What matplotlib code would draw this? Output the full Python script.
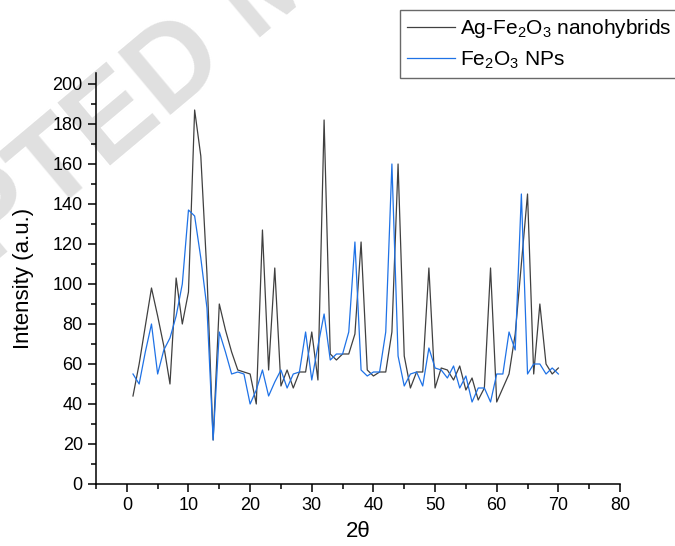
import numpy as np
import matplotlib
matplotlib.use('Agg')
import matplotlib.pyplot as plt
from matplotlib.ticker import MultipleLocator

plt.rcParams['font.family'] = ['Liberation Sans', 'DejaVu Sans']
plt.rcParams['mathtext.fontset'] = 'custom'
plt.rcParams['mathtext.rm'] = 'Liberation Sans'
plt.rcParams['mathtext.it'] = 'Liberation Sans:italic'
plt.rcParams['mathtext.bf'] = 'Liberation Sans:bold'

# 2theta positions
two_theta = list(range(1, 71))

# Ag-Fe2O3 nanohybrids
ag_fe2o3 = [44, 60, 79, 98, 84, 69, 50, 103, 80, 96,
            187, 164, 105, 22, 90, 77, 66, 57, 56, 55,
            40, 127, 57, 108, 49, 57, 48, 56, 56, 76,
            52, 182, 65, 62, 65, 65, 75, 121, 57, 54,
            56, 56, 76, 160, 64, 48, 56, 56, 108, 48,
            58, 57, 52, 59, 47, 53, 42, 48, 108, 41,
            48, 55, 75, 110, 145, 55, 90, 60, 55, 58]

# Fe2O3 NPs
fe2o3 = [55, 50, 66, 80, 55, 67, 73, 84, 100, 137,
         134, 113, 88, 22, 76, 66, 55, 56, 55, 40,
         47, 57, 44, 51, 57, 48, 55, 56, 76, 52,
         69, 85, 62, 65, 65, 76, 121, 57, 54, 56,
         56, 76, 160, 64, 49, 55, 56, 49, 68, 58,
         57, 53, 59, 48, 54, 41, 48, 48, 41, 55,
         55, 76, 67, 145, 55, 60, 60, 55, 58, 55]

labels = ['Ag-Fe$_2$O$_3$ nanohybrids', 'Fe$_2$O$_3$ NPs']

fig = plt.figure(figsize=(6.75, 5.46), dpi=100)

# watermark in the background
wm = dict(fontsize=85, fontweight='bold', color='#e0e0e0', rotation=40,
          rotation_mode='anchor', va='baseline', zorder=-5)
fig.text(0.34, 0.885, 'ACCEPTED', ha='right', **wm)
fig.text(0.34, 0.885, ' MANUSCRIPT', ha='left', **wm)

ax = fig.add_axes([96 / 675, 1 - 484 / 546, (620 - 96) / 675, (484 - 73) / 546])
ax.set_zorder(1)
ax.patch.set_alpha(0)

l1, = ax.plot(two_theta, ag_fe2o3, color='#404040', lw=0.9)
l2, = ax.plot(two_theta, fe2o3, color='#1f72e6', lw=0.9)

ax.set_xlim(-5, 80)
ax.set_ylim(0, 205.5)
ax.xaxis.set_major_locator(MultipleLocator(10))
ax.xaxis.set_minor_locator(MultipleLocator(5))
ax.yaxis.set_major_locator(MultipleLocator(20))
ax.yaxis.set_minor_locator(MultipleLocator(10))

for s in ['top', 'right']:
    ax.spines[s].set_visible(False)
for s in ['left', 'bottom']:
    ax.spines[s].set_linewidth(1.1)

ax.tick_params(which='major', direction='out', length=6, width=1.1, labelsize=13)
ax.tick_params(which='minor', direction='out', length=3.5, width=1.1)

ax.set_xlabel('2θ', fontsize=16, labelpad=5)
ax.set_ylabel('Intensity (a.u.)', fontsize=16, labelpad=13)

leg = fig.legend([l1, l2], labels, loc='upper left',
                 bbox_to_anchor=(400 / 675, 1 - 10 / 546),
                 fontsize=15, frameon=True, fancybox=False, shadow=False,
                 handlelength=2.3, handletextpad=0.25, labelspacing=0.45,
                 borderpad=0.35, borderaxespad=0)
leg.get_frame().set_edgecolor('#444444')
leg.get_frame().set_linewidth(1.0)
leg.set_zorder(2)

fig.savefig('out.png', dpi=100)
